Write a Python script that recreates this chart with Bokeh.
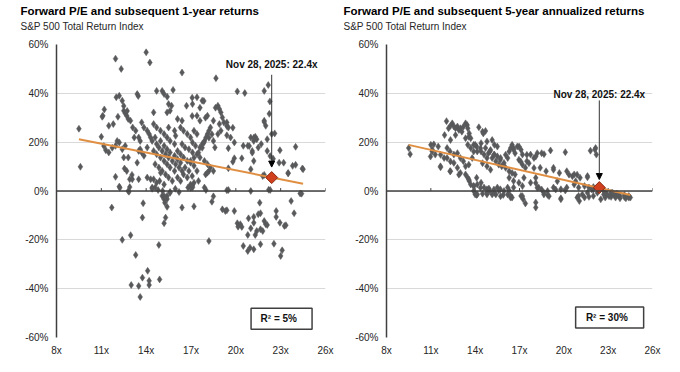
from bokeh.plotting import figure
from bokeh.layouts import row
from bokeh.models import (Range1d, FixedTicker, PrintfTickFormatter, Span, Label,
                          Arrow, NormalHead, Title)
from bokeh.embed import file_html
from bokeh.resources import INLINE

FONT = "Liberation Sans"

# ---------------- data ----------------
x_ticks = [8, 11, 14, 17, 20, 23, 26]
y_ticks = [-60, -40, -20, 0, 20, 40, 60]

title_1y = "Forward P/E and subsequent 1-year returns"
title_5y = "Forward P/E and subsequent 5-year annualized returns"
subtitle = "S&P 500 Total Return Index"
current_label = "Nov 28, 2025: 22.4x"
r2_1y = "R²  =  5%"
r2_5y = "R²  =  30%"

current_pe = 22.4
current_ret_1y = 5.5
current_ret_5y = 1.4

trend_1y_x = [9.5, 24.5]
trend_1y_y = [21.2, 3.0]
trend_5y_x = [9.5, 24.5]
trend_5y_y = [18.9, -1.6]

# (forward P/E, subsequent 1-year return %)
points_1y = [
    (9.5, 25.5), (9.6, 9.9), (11.95, 54.2), (12.33, 50), (14.0, 56.8), (14.25, 52.6), (16.4, 48.5),
    (18.67, 46.2), (22.17, 43.4), (22.28, 36.7), (22.24, 31.6), (21.9, 41), (22.6, 23.6), (20.1, 40.8),
    (20.6, 40.1), (11.1, 30.8), (11.2, 33.4), (11.5, 26.7), (11.0, 22.2), (11.3, 16.7), (11.5, 15.8),
    (11.8, 27.4), (12.0, 38.4), (12.2, 39), (12.4, 37), (12.5, 32.9), (12.6, 31.8), (12.7, 30.8),
    (12.8, 29.5), (12.95, 28.8), (12.06, 20.5), (12.2, 19.9), (11.95, 18.5), (12.4, 17.1), (12.6, 18.5),
    (12.8, 13.7), (12.5, 13.7), (11.95, 5.8), (12.2, 1.8), (12.55, 9.2), (12.7, 8.2), (12.9, 4.8),
    (13.05, 6.6), (12.8, 0), (13.4, 39.7), (13.1, 26), (13.3, 24.7), (13.5, 21.9), (13.6, 20.5),
    (13.2, 21.9), (13.7, 28.1), (13.85, 26), (14.07, 24.7), (14.2, 23.3), (14.3, 21.9), (14.4, 20.5),
    (13.6, 17.1), (13.7, 15.8), (13.85, 14.4), (14.07, 17.8), (13.4, 11.6), (13.5, 4.8), (14.07, 5.5),
    (14.5, 32.2), (14.7, 41), (15.07, 41), (15.2, 39.7), (15.5, 35.6), (15.4, 32.2), (15.8, 41.4),
    (15.7, 34.9), (15.6, 32.9), (16.1, 29.5), (16.4, 28.8), (16.7, 34.9), (17.1, 35.6), (17.2, 24.7),
    (17.4, 38.4), (17.75, 37), (18.1, 30.8), (18.8, 34.9), (18.9, 33.6), (19.0, 32.2), (19.1, 30.1),
    (19.2, 28.1), (19.4, 28.1), (19.5, 26), (18.5, 28.8), (18.9, 27.4), (19.0, 24.7), (19.65, 21.9),
    (19.9, 19.9), (20.5, 18.5), (20.8, 18.5), (21.0, 21.9), (21.2, 20.5), (21.3, 22.2), (21.4, 21.2),
    (21.5, 17.8), (21.7, 19.2), (21.1, 16.4), (22.1, 21.2), (22.4, 23.3), (22.1, 16.4), (21.9, 28.8),
    (22.0, 26.7), (22.95, 16.7), (22.5, 13.2), (24.0, 18.1), (23.8, 10.3), (24.0, 10.7), (24.45, 9.2),
    (23.5, 7.4), (23.2, 11.6), (22.9, 11.6), (21.0, 8.9), (20.4, 13.4), (19.9, 13.4), (19.5, 9.3),
    (19.5, 17.5), (21.2, 12.3), (21.9, 6.6), (19.4, 0.3), (21.0, 0), (22.2, 0.5),
    (14.5, 16.4), (14.7, 15.1), (14.96, 13.7), (15.2, 12.3), (15.4, 11), (15.6, 9.6), (15.9, 8.2),
    (14.6, 11), (14.85, 9.6), (15.07, 8.2), (15.3, 6.8), (15.5, 5.5), (15.75, 4.1), (14.5, 4.8),
    (14.7, 3.4), (14.4, 1.4), (14.6, 1.4), (15.2, 2.7), (16.1, 5.5), (16.3, 4.1), (16.5, 6.8),
    (16.75, 5.5), (16.97, 2.7), (17.1, 1.4), (16.1, 16.4), (16.3, 15.1), (16.5, 13.7), (16.75, 12.3),
    (16.97, 11.6), (17.2, 10.3), (16.4, 19.2), (16.6, 17.8), (16.86, 17.1), (17.1, 15.8), (17.4, 15.1),
    (17.6, 17.8), (17.75, 19.2), (17.9, 20.5), (18.0, 21.9), (18.1, 23.3), (18.2, 24.7), (18.3, 26),
    (17.6, 13.7), (17.9, 12.3), (18.1, 11), (18.3, 9.6), (18.5, 8.2), (17.98, 6.8), (18.2, 8.2),
    (17.4, 8.2), (17.5, 4.1), (17.9, 1.4), (14.5, 27.4), (14.7, 26), (14.96, 24.7), (15.2, 23.3),
    (15.4, 21.9), (15.6, 20.5), (15.9, 19.2), (14.96, 20.5), (15.2, 18.5), (15.4, 17.1), (15.6, 15.8),
    (15.9, 14.4), (16.1, 13), (16.3, 11.6), (14.7, 19.2), (14.6, 21.9), (14.85, 17.8), (15.07, 16.4),
    (15.3, 15.1), (15.5, 13.7), (15.75, 12.3), (15.97, 11), (16.2, 9.6), (16.4, 8.2), (16.6, 9.6),
    (16.86, 8.2), (16.3, 26), (16.5, 24.7), (16.75, 23.3), (16.97, 21.9), (17.1, 19.9), (17.3, 18.5),
    (15.9, 24.7), (15.97, 22.6), (15.5, 26), (17.4, 30.8), (17.6, 28.8), (17.4, 23.3), (18.5, 20.5),
    (18.8, 23.3), (18.6, 17.8), (11.17, 18.4), (11.73, 17.7), (13.5, 16.4), (13.07, 4.8), (12.24, 1.3),
    (12.85, -0.3), (14.3, 4.8), (14.9, 4.1), (14.97, 7.5), (13.47, 38.9), (15.41, 38.6), (11.06, 30.4),
    (12.11, 30.4), (12.5, 34.8), (12.73, 32.8), (21.9, 28.3), (21.2, 21.8), (20.9, 18.4), (21.1, 15.7),
    (22.3, 14.3), (19.8, 12), (21.8, 6.1), (23.5, 7.2), (24.5, 8.9), (22.3, 0.4), (24.3, -1),
    (17.08, 38.2), (17.86, 36.9), (17.6, 34.1), (17.08, 30.7), (17.97, 30), (18.64, 34.1), (19.4, 26.6),
    (19.8, 25.9), (19.4, 22.8), (18.4, 23.2), (18.2, 21.8), (17.86, 19.8), (17.75, 17.7), (17.5, 15.7),
    (17.2, 13.6), (16.97, 12.3), (18.1, 7.5), (17.08, 6.1), (17.2, 3.4), (16.97, 1.3), (12.9, 1.6),
    (14.4, 0.9), (14.8, 0.4), (15.1, 0), (15.6, -0.4), (15.95, 0.9), (16.2, -0.4), (16.8, 1.4),
    (17.1, 2), (18.0, 0.4), (19.5, 0.4),
    (11.7, -6.8), (12.4, -20), (12.96, -18.1), (13.3, -26.2), (13.0, -38.5), (13.5, -38.9), (13.6, -43.4),
    (13.75, -35.5), (14.1, -32.7), (14.2, -36.8), (14.2, -38.5), (14.9, -36.2), (13.75, -10.9),
    (13.8, -5), (14.85, -22.1), (15.07, -2), (15.2, -3.4), (15.25, -4.8), (15.4, -6.5), (15.3, -10.9),
    (15.2, -13.2), (15.6, -0.7), (16.4, -6.8), (17.2, -6.3), (18.2, -20.5), (18.4, -4.4), (18.5, -2.2),
    (19.1, -7.5), (19.3, -8.2), (19.4, -7.9), (19.9, -8.2), (20.1, -13.2), (20.15, -14.6), (20.3, -13.6),
    (20.4, -14.7), (20.5, -22.5), (20.8, -24.6), (20.95, -23.2), (21.2, -23.9), (20.8, -18), (21.3, -18),
    (21.0, -15.3), (20.85, -11.2), (21.2, -10.6), (21.2, -13), (21.5, -9.5), (21.65, -9.1), (21.6, -4.8),
    (21.4, -16.4), (21.65, -15.7), (21.8, -16.4), (21.65, -21.8), (21.9, -12.3), (22.0, -13.6),
    (22.1, -13.9), (22.55, -21.6), (22.7, -8.2), (22.7, -10.6), (22.95, -13), (23.1, -24.3),
    (23.0, -26.6), (23.25, -14.3), (23.35, -14), (23.7, -4.1), (23.9, -9.1), (24.4, -1.1),
    (15.4, -3.3), (15.4, -2), (15.2, -2),
]

# (forward P/E, subsequent 5-year annualized return %)
points_5y = [
    (9.5, 17.6), (9.6, 15.1), (11.0, 18.9), (11.1, 16.9), (11.3, 14.9), (11.5, 18.2), (11.65, 10.1),
    (11.9, 13.5), (12.06, 28.6), (12.2, 25.7), (12.3, 8.1), (12.45, 27.7), (12.56, 26.4), (12.67, 25.7),
    (12.8, 26.4), (12.9, 25), (13.0, 25.7), (13.1, 24.3), (13.35, 27.7), (13.5, 25.7), (13.6, 23.6),
    (13.7, 21.6), (13.35, 21.6), (14.25, 26.1), (14.5, 24.3), (14.7, 24.6), (12.1, 17.6), (12.3, 16.2),
    (12.56, 14.9), (12.8, 15.5), (13.0, 13.5), (13.2, 12.2), (13.5, 18.9), (13.7, 17.6), (13.9, 16.2),
    (13.8, 13.5), (12.56, 11.5), (12.8, 9.5), (13.0, 7.4), (13.35, 6.8), (13.5, 5.4), (13.6, 4.1),
    (13.7, 2.7), (13.9, 2), (14.0, -1.4), (14.1, 5.4), (14.4, 3.4), (14.6, 1.4), (14.8, 0.7), (15.0, 0),
    (15.3, -0.7), (15.5, 1.4), (15.7, 0.7), (15.95, 0), (16.2, -1.4), (16.4, -2), (14.4, 16.2),
    (14.6, 14.9), (14.8, 13.5), (15.0, 16.2), (15.3, 14.9), (15.5, 14.2), (15.7, 12.8), (15.95, 11.5),
    (16.2, 13.5), (16.3, 16.2), (16.4, 17.6), (16.5, 18.9), (16.6, 16.9), (16.7, 15.5), (16.85, 18.2),
    (17.1, 16.9), (17.2, 14.9), (16.96, 12.8), (17.2, 10.8), (17.4, 9.5), (17.5, 12.2), (17.75, 14.9),
    (17.98, 13.5), (18.2, 15.5), (18.5, 15.5), (19.1, 16.6), (20.1, 15.9), (18.4, 9.5), (18.8, 8.1),
    (19.3, 9.5), (19.7, 7.4), (20.2, 8.1), (20.7, 6.8), (21.1, 5.4), (21.6, 6.1), (21.8, 16.5),
    (22.15, 17.6), (22.2, 14.9), (17.3, 5.4), (17.75, 3.4), (18.1, 5.4), (18.3, 1.4), (18.65, -0.7),
    (18.9, 0), (19.3, 1.4), (19.8, 0.7), (20.2, 1.4), (20.7, 2.7), (21.0, 1.4), (21.4, 2), (21.7, 1.4),
    (22.0, 0.7), (22.7, 0), (23.2, -0.7), (23.6, -1.4), (24.1, -1.6), (24.4, -2), (22.9, -1.1),
    (23.4, -1.6), (23.8, -2), (14.8, 20.3), (15.3, 18.9), (15.5, 18.2), (15.15, 20.9), (13.9, 18.9),
    (14.1, 18.2), (14.4, 19.6), (14.7, 17.6), (14.9, 15.5), (15.15, 13.5), (15.4, 12.2), (15.6, 10.8),
    (15.8, 10.1), (16.06, 9.5), (16.3, 8.1), (16.5, 7.4), (16.7, 6.8), (16.3, 5.4), (16.6, 4.1),
    (16.96, 3.4), (17.2, 2), (16.6, 1.4), (16.2, 1.4),
    (14.1, -1.6), (14.5, -1.1), (14.8, -1.4), (15.4, -1.4), (15.9, -1.6), (16.4, -2.7), (17.1, -2),
    (17.4, -5.1), (17.25, -3.4), (18.1, -4.7), (18.1, -6.8), (18.65, -1.4), (18.9, -1.6), (19.8, -3),
    (21.0, -2), (21.05, -4.1), (21.4, -2.7), (21.7, -2.4), (22.0, -2), (22.5, -3.4), (22.8, -2.7),
    (23.2, -2.4), (23.5, -2.7), (23.8, -3), (24.2, -3), (24.5, -2.7),
    (12.33, 26.7), (13.2, 26.3), (13.46, 27), (13.57, 22.2), (12.67, 22.9), (11.93, 22.9), (12.33, 20.9),
    (14.55, 23.6), (11.2, 19.1), (11.66, 14.8), (11.09, 16.2), (10.98, 14.1), (12.1, 13.5), (12.33, 12.1),
    (11.66, 9.7), (12.33, 8.1), (12.9, 6.7), (13.35, 10.1), (13.57, 10.8), (14.14, 16.2), (14.0, 18.9),
    (14.36, 17.5), (15.04, 16.8), (15.27, 14.8), (15.72, 13.5), (16.06, 14.8), (16.6, 17.5), (14.5, 11.4),
    (14.8, 10.1), (15.04, 8.7), (13.57, 4.7), (13.9, 2), (14.14, 2.7), (14.36, 1.3), (14.93, 1.0),
    (15.27, 0.6), (15.6, 0.2), (16.3, 0.2), (14.14, -1.4), (14.8, -0.7), (13.9, 0), (15.15, -1.4),
    (15.72, -2.1), (16.5, -2.7), (16.97, 18.2), (17.5, 14.8), (18.1, 14.1), (18.66, 15.1), (22.1, 17.0),
    (17.08, 12.1), (17.64, 11.4), (17.98, 9.4), (19.3, 8.7), (20.35, 6.7), (20.58, 6.0), (20.9, 6.7),
    (21.6, 5.6), (19.56, 4.0), (20.8, 4.0), (18.1, 3.3), (18.2, 1.3), (18.5, 0.6), (19.45, 0.6),
    (20.1, 0.2), (17.2, -2.1), (19.0, -2.1), (19.8, -3.4), (20.9, -2.7), (21.25, -1.4), (21.6, -0.7),
    (21.9, 0.6), (22.27, -0.7), (22.7, -1.4), (23.06, -2.1), (23.7, -1.8), (24.1, -2.5), (24.4, -2.7),
    (22.8, -0.3), (23.3, -0.7), (23.6, -1.1), (22.0, 1.6),
]

# ---------------- styling ----------------
GRAY_PT = "#58595b"
AXIS = "#404040"
GRID = "#d9d9d9"
TREND = "#e08f42"
TXT = "#262626"


def make_panel(title, pts, trend_x, trend_y, cur_ret, r2_text,
               label_y, arrow_top, arrow_tip, r2_x, r2_y, r2_w,
               fig_w, b_left, b_right, b_top, b_bottom, title_offset):
    p = figure(width=fig_w, height=364, x_range=Range1d(8, 26), y_range=Range1d(-60, 60),
               output_backend="svg", toolbar_location=None, title=None,
               min_border_left=b_left, min_border_right=b_right,
               min_border_top=b_top, min_border_bottom=b_bottom)
    p.outline_line_color = None
    p.background_fill_color = "white"
    p.border_fill_color = "white"

    # subtitle carries a blank second line so it sits well above the plot area
    p.add_layout(Title(text=subtitle + "\n ", align="left", offset=title_offset, text_font=FONT,
                       text_font_size="10px", text_font_style="normal", text_color=TXT,
                       standoff=4), "above")
    p.add_layout(Title(text=title, align="left", offset=title_offset, text_font=FONT,
                       text_font_size="11.5px", text_font_style="bold", text_color="#000000",
                       standoff=0), "above")

    p.xgrid.visible = False
    p.ygrid.grid_line_color = GRID
    p.ygrid.grid_line_width = 1

    p.yaxis.ticker = FixedTicker(ticks=y_ticks)
    p.yaxis.formatter = PrintfTickFormatter(format="%d%%")
    p.yaxis.axis_line_color = AXIS
    p.yaxis.axis_line_width = 1.5
    p.yaxis.major_tick_line_color = None
    p.yaxis.minor_tick_line_color = None
    p.yaxis.major_tick_out = 0
    p.yaxis.major_tick_in = 0
    p.yaxis.minor_tick_out = 0
    p.yaxis.major_label_standoff = 8
    p.yaxis.major_label_text_font = FONT
    p.yaxis.major_label_text_font_size = "10px"
    p.yaxis.major_label_text_color = TXT

    p.xaxis.ticker = FixedTicker(ticks=x_ticks)
    p.xaxis.formatter = PrintfTickFormatter(format="%dx")
    p.xaxis.axis_line_color = None
    p.xaxis.major_tick_line_color = None
    p.xaxis.minor_tick_line_color = None
    p.xaxis.major_tick_out = 0
    p.xaxis.major_tick_in = 0
    p.xaxis.minor_tick_out = 0
    p.xaxis.major_label_standoff = 7
    p.xaxis.major_label_text_font = FONT
    p.xaxis.major_label_text_font_size = "10px"
    p.xaxis.major_label_text_color = TXT

    # zero line with small tick marks
    p.add_layout(Span(location=0, dimension="width", line_color=AXIS, line_width=1.5))
    p.segment(x0=x_ticks, y0=[0] * len(x_ticks), x1=x_ticks, y1=[1.2] * len(x_ticks),
              line_color=AXIS, line_width=1)

    xs = [a for a, b in pts]
    ys = [b for a, b in pts]
    p.scatter(xs, ys, marker="diamond", size=7, fill_color=GRAY_PT, line_color=GRAY_PT,
              line_width=0.5)
    p.line(trend_x, trend_y, line_color=TREND, line_width=2)
    p.scatter([current_pe], [cur_ret], marker="square", angle=0.785398, size=8.5,
              fill_color="#d0401c", line_color="#8a2a12", line_width=1)

    p.add_layout(Arrow(end=NormalHead(size=6, fill_color="#000000", line_color="#000000"),
                       x_start=current_pe, y_start=arrow_top, x_end=current_pe, y_end=arrow_tip,
                       line_color="#333333", line_width=1))
    p.add_layout(Label(x=current_pe, y=label_y, text=current_label, text_align="center",
                       text_baseline="middle", text_font=FONT, text_font_style="bold",
                       text_font_size="10px", text_color="#111111"))

    p.rect(x=[r2_x], y=[r2_y], width=r2_w, height=21, width_units="screen",
           height_units="screen", fill_color="white", line_color=AXIS, line_width=1.5)
    p.add_layout(Label(x=r2_x, y=r2_y, text=r2_text, text_align="center",
                       text_baseline="middle", text_font=FONT, text_font_style="bold",
                       text_font_size="10px", text_color="#111111"))
    return p


p1 = make_panel(title_1y, points_1y, trend_1y_x, trend_1y_y, current_ret_1y, r2_1y,
                label_y=52, arrow_top=47.6, arrow_tip=9.8, r2_x=23.06, r2_y=-52.3, r2_w=61,
                fig_w=340, b_left=56, b_right=15, b_top=44, b_bottom=27, title_offset=-36)
p2 = make_panel(title_5y, points_5y, trend_5y_x, trend_5y_y, current_ret_5y, r2_5y,
                label_y=39.6, arrow_top=37.1, arrow_tip=4.7, r2_x=23.1, r2_y=-51.8, r2_w=68,
                fig_w=338, b_left=46, b_right=26, b_top=42, b_bottom=25, title_offset=-43)

layout = row(p1, p2)
open("out.html", "w").write(file_html(layout, INLINE))
